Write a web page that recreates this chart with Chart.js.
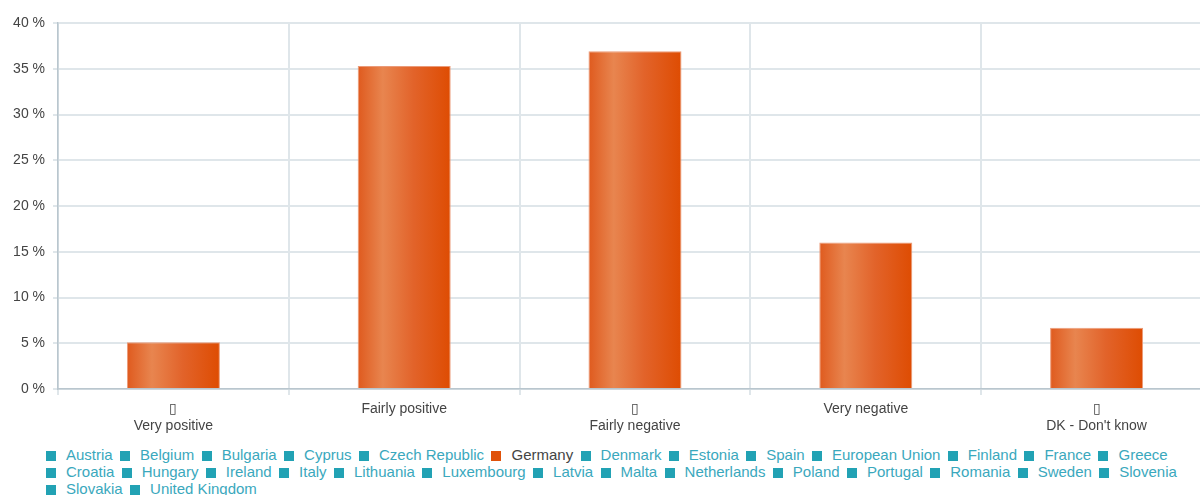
<!DOCTYPE html>
<html>
<head>
<meta charset="utf-8">
<script src="https://cdn.jsdelivr.net/npm/chart.js@4"></script>
<style>
  html, body { margin: 0; padding: 0; background: #fff; overflow: hidden; }
  #wrap { position: relative; width: 1212px; height: 495px; }
  #chartBox { position: absolute; left: 0; top: 0; width: 1212px; height: 440px; }
  #legend {
    position: absolute; left: 46px; top: 446px; width: 1150px;
    font: 15px "Liberation Sans", Arial, sans-serif; line-height: 17px;
  }
  #legend span.item { display: inline-block; white-space: nowrap; margin-right: 7.4px; }
  #legend span.box { display: inline-block; width: 10px; height: 10px; margin-right: 10px; vertical-align: -1px; }
</style>
</head>
<body>
<div id="wrap">
  <div id="chartBox"><canvas id="myChart"></canvas></div>
  <div id="legend"></div>
</div>
<script>
// datos del grafico
const categorias = [
    ["\u25AF", "Very positive"],
    "Fairly positive",
    ["\u25AF", "Fairly negative"],
    "Very negative",
    ["\u25AF", "DK - Don't know"]
];
const valoresAlemania = [5.1, 35.3, 36.9, 16.0, 6.7];
const ticksY = [0, 5, 10, 15, 20, 25, 30, 35, 40];
const paises = [
    "Austria", "Belgium", "Bulgaria", "Cyprus", "Czech Republic", "Germany", "Denmark",
    "Estonia", "Spain", "European Union", "Finland", "France", "Greece", "Croatia",
    "Hungary", "Ireland", "Italy", "Lithuania", "Luxembourg", "Latvia", "Malta",
    "Netherlands", "Poland", "Portugal", "Romania", "Sweden", "Slovenia", "Slovakia",
    "United Kingdom"
];
const paisActivo = "Germany";

const fuente = "'Liberation Sans', Arial, sans-serif";

// degradado horizontal de cada barra
function colorBarra(context) {
    const chart = context.chart;
    const x = chart.scales && chart.scales.x;
    if (!chart.chartArea || !x) return '#e05a1a';
    const centro = x.getPixelForValue(context.dataIndex);
    const ancho = (chart.chartArea.width / categorias.length) * 0.403;
    const g = chart.ctx.createLinearGradient(centro - ancho / 2, 0, centro + ancho / 2, 0);
    g.addColorStop(0, '#df5a1e');
    g.addColorStop(0.27, '#e8854f');
    g.addColorStop(0.6, '#e2632a');
    g.addColorStop(1, '#de4c02');
    return g;
}

let mychart = document.getElementById("myChart").getContext("2d");

var chart = new Chart(mychart, {
    type: "bar",
    data: {
        labels: categorias,
        datasets: [{
            label: paisActivo,
            data: valoresAlemania,
            backgroundColor: colorBarra,
            borderColor: '#eb9a78',
            borderWidth: 1,
            categoryPercentage: 1,
            barPercentage: 0.403
        }]
    },
    options: {
        responsive: true,
        maintainAspectRatio: false,
        animation: false,
        layout: { padding: { top: 23, right: 0, left: 0, bottom: 0 } },
        scales: {
            y: {
                min: 0,
                max: 40,
                afterBuildTicks: (axis) => { axis.ticks = ticksY.map(v => ({ value: v })); },
                afterFit: (axis) => { axis.width = 58; },
                ticks: {
                    color: '#444',
                    padding: 8,
                    font: { family: fuente, size: 14 },
                    callback: (v) => v + ' %'
                },
                grid: { color: '#dfe6ea', lineWidth: 2, tickLength: 5 },
                border: { color: '#b9c6ce', width: 1.5 }
            },
            x: {
                afterFit: (axis) => { axis.height = 51; },
                ticks: {
                    color: '#444',
                    padding: 6,
                    maxRotation: 0,
                    font: { family: fuente, size: 14, lineHeight: 1.18 }
                },
                grid: { color: '#dfe6ea', lineWidth: 2, tickLength: 6 },
                border: { color: '#b9c6ce', width: 1.5 }
            }
        },
        plugins: {
            legend: { display: false },
            tooltip: { enabled: false }
        }
    }
});

// leyenda en html
const leyenda = document.getElementById('legend');
paises.forEach(p => {
    const activo = p === paisActivo;
    const item = document.createElement('span');
    item.className = 'item';
    const caja = document.createElement('span');
    caja.className = 'box';
    caja.style.background = activo ? '#e0520a' : '#22a2b4';
    item.appendChild(caja);
    const txt = document.createElement('span');
    txt.textContent = p;
    txt.style.color = activo ? '#444' : '#3aa8bd';
    item.appendChild(txt);
    leyenda.appendChild(item);
});
</script>
</body>
</html>
